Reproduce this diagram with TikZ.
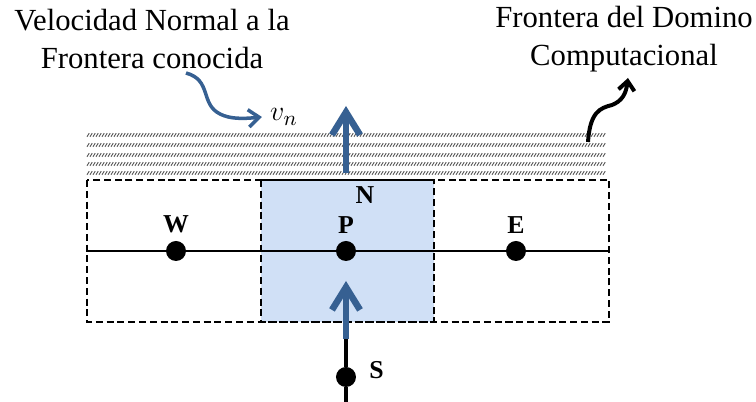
\documentclass[tikz,border=0pt]{standalone}
\usepackage{fontspec}
\setmainfont{Liberation Serif}
\usepackage{tikz}
\usetikzlibrary{arrows.meta, positioning}
\definecolor{flecha}{RGB}{54,96,146}
\definecolor{celda}{RGB}{208,224,246}

\begin{document}
\begin{tikzpicture}[x=0.015cm, y=-0.015cm,
    punto/.style={circle, fill=black, inner sep=0pt, minimum size=0.3cm},
    etiq/.style={font=\fontsize{11}{13}\selectfont\bfseries, inner sep=1pt},
    texto/.style={font=\fontsize{13.1}{16.2}\selectfont, align=center},
    borde/.style={line width=0.85pt, dash pattern=on 3pt off 1.6pt},
    rayado/.style={black!65, line width=0.4pt},
    flujo/.style={flecha, line width=2.8pt, -{Straight Barb[length=0.34cm, width=0.42cm]}}]

    \useasboundingbox (0,0) rectangle (756,402);

    % Celda de control sombreada
    \fill[celda] (261,180) rectangle (434,322);

    % Frontera rayada del dominio
    \foreach \fila in {135,145,155,164,173}
        \draw[rayado] \foreach \x in {87,90,...,605} {(\x,\fila+1.8) -- ++(2.2,-3.6)};

    % Puntos de la malla
    \node[punto] (W) at (176,251) {};
    \node[punto] (P) at (346,251) {};
    \node[punto] (E) at (516,251) {};
    \node[punto] (S) at (346,377) {};

    \coordinate (oeste) at (87,251);
    \coordinate (este) at (609,251);
    \coordinate (abajo) at (346,402);
    \coordinate (colaS) at (346,339);
    \coordinate (puntaS) at (346,281);
    \coordinate (colaN) at (346,173);
    \coordinate (puntaN) at (346,106);

    % Lineas de la malla
    \draw[line width=0.8pt] (oeste) -- (W) -- (P) -- (E) -- (este);
    \draw[line width=1.3pt] (S) -- (abajo);
    \draw[line width=1.3pt] (S) -- (colaS);

    % Volumenes de control
    \draw[borde] (87,180) rectangle (609,322);
    \draw[borde] (261,180) rectangle (434,322);

    % Velocidades
    \draw[flujo] (colaS) -- (puntaS);
    \draw[flujo] (colaN) -- (puntaN);

    % Etiquetas de los puntos
    \node[etiq, above=0.07cm of W] (labW) {W};
    \node[etiq, above=0.07cm of P] (labP) {P};
    \node[etiq, above=0.07cm of E] (labE) {E};
    \node[etiq] (labN) at (365,195) {N};
    \node[etiq, right=0.15cm of S, yshift=0.1cm] (labS) {S};

    % Textos y flechas curvas
    \node[texto] (velo) at (152,39) {Velocidad Normal a la\\Frontera conocida};
    \node[texto] (front) at (624,39) {Frontera del Domino\\Computacional};
    \node[font=\fontsize{13.1}{16.2}\selectfont] (vn) at (284,117) {$v_n$};

    \coordinate (iniV) at (186,73);
    \coordinate (iniF) at (588,142);
    \coordinate (finF) at (628,78);
    \draw[flecha, line width=1.5pt, -{Straight Barb[length=0.16cm, width=0.26cm]}]
        (iniV) .. controls (212,80) and (200,104) .. (220,114)
        .. controls (230,119) and (242,119) .. (vn.west);
    \draw[line width=1.7pt, -{Straight Barb[length=0.14cm, width=0.24cm]}]
        (iniF) .. controls (590,112) and (600,108) .. (612,105)
        .. controls (622,101) and (626,94) .. (finF);

\end{tikzpicture}
\end{document}
